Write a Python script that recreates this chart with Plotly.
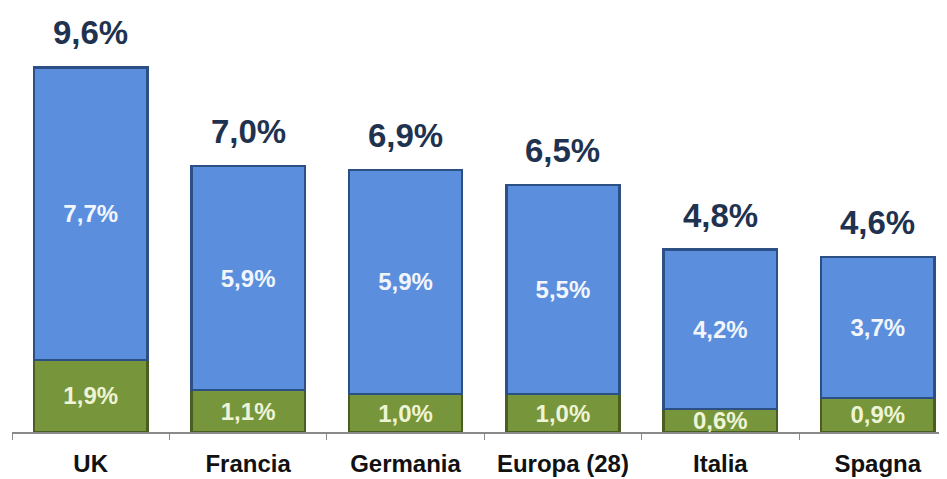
import plotly.graph_objects as go

categories = ["UK", "Francia", "Germania", "Europa (28)", "Italia", "Spagna"]
green_vals = [1.9, 1.1, 1.0, 1.0, 0.6, 0.9]
blue_vals = [7.7, 5.9, 5.9, 5.5, 4.2, 3.7]
totals = [9.6, 7.0, 6.9, 6.5, 4.8, 4.6]

def fmt(v):
    return f"{v:.1f}".replace(".", ",") + "%"

fig = go.Figure()
fig.add_trace(go.Bar(
    x=categories, y=green_vals,
    marker=dict(color="#77953a", line=dict(color="#4a5e22", width=2.5)),
    text=[fmt(v) for v in green_vals], textposition="inside",
    insidetextanchor="middle", textangle=0, constraintext="none",
    textfont=dict(family="Liberation Sans", size=24, color="#eef4d6", weight="bold"),
    width=0.72,
))
fig.add_trace(go.Bar(
    x=categories, y=blue_vals,
    marker=dict(color="#5b8fdd", line=dict(color="#2c4f86", width=2.5)),
    text=[fmt(v) for v in blue_vals], textposition="inside",
    insidetextanchor="middle", textangle=0, constraintext="none",
    textfont=dict(family="Liberation Sans", size=24, color="#f2f6fc", weight="bold"),
    width=0.72,
))
for c, t in zip(categories, totals):
    fig.add_annotation(x=c, y=t, text=fmt(t), showarrow=False, yanchor="bottom",
                       yshift=14, font=dict(family="Liberation Sans", size=33,
                                            color="#1f3350", weight="bold"))

fig.update_layout(
    barmode="stack", showlegend=False, width=939, height=471,
    margin=dict(l=4, r=0, t=0, b=47),
    paper_bgcolor="white", plot_bgcolor="white",
    xaxis=dict(range=[-0.5, 5.44], showline=True, linecolor="#8a8a8a", linewidth=1.5,
               ticks="outside", tickson="boundaries", ticklen=6, tickcolor="#8a8a8a",
               ticklabelstandoff=9,
               tickfont=dict(family="Liberation Sans", size=24, color="#111111", weight="bold"),
               showgrid=False),
    yaxis=dict(range=[0, 11.16], visible=False, showgrid=False),
)
fig.write_html("out.html")
